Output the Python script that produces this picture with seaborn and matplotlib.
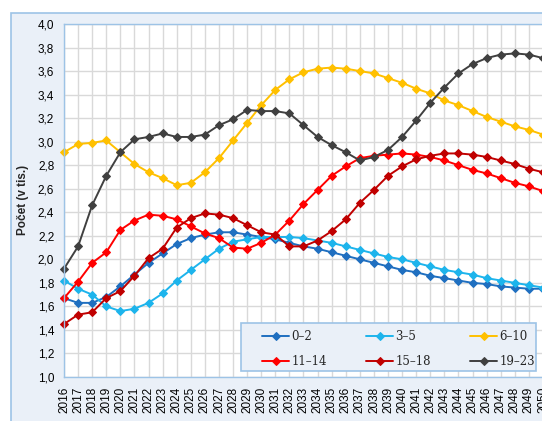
import matplotlib
matplotlib.use("Agg")
import matplotlib.pyplot as plt
from matplotlib.patches import Rectangle
from matplotlib.ticker import FuncFormatter, MultipleLocator
import seaborn as sns
import numpy as np

years = list(range(2016, 2051))

g0_2 = [1.67, 1.63, 1.63, 1.68, 1.77, 1.87, 1.97, 2.05, 2.13,
        2.18, 2.21, 2.23, 2.23, 2.21, 2.19, 2.17, 2.14, 2.11,
        2.09, 2.06, 2.03, 2.00, 1.97, 1.94, 1.91, 1.89, 1.86,
        1.84, 1.82, 1.80, 1.79, 1.77, 1.76, 1.75, 1.75]
g3_5 = [1.82, 1.75, 1.70, 1.60, 1.56, 1.58, 1.63, 1.71, 1.82,
        1.91, 2.00, 2.09, 2.15, 2.17, 2.19, 2.19, 2.19, 2.18,
        2.16, 2.14, 2.11, 2.08, 2.05, 2.02, 2.00, 1.97, 1.94,
        1.91, 1.89, 1.87, 1.84, 1.82, 1.80, 1.78, 1.76]
g6_10 = [2.91, 2.98, 2.99, 3.01, 2.91, 2.81, 2.74, 2.69, 2.63,
         2.65, 2.74, 2.86, 3.01, 3.16, 3.31, 3.44, 3.53, 3.59,
         3.62, 3.63, 3.62, 3.60, 3.58, 3.54, 3.50, 3.45, 3.41,
         3.35, 3.31, 3.26, 3.21, 3.17, 3.13, 3.10, 3.06]
g11_14 = [1.67, 1.81, 1.97, 2.06, 2.25, 2.33, 2.38, 2.37, 2.34,
          2.28, 2.22, 2.18, 2.10, 2.09, 2.14, 2.21, 2.33, 2.47,
          2.59, 2.71, 2.79, 2.86, 2.88, 2.89, 2.90, 2.89, 2.87,
          2.84, 2.80, 2.76, 2.73, 2.69, 2.65, 2.62, 2.58]
g15_18 = [1.45, 1.53, 1.55, 1.67, 1.73, 1.86, 2.01, 2.09, 2.27,
          2.35, 2.39, 2.38, 2.35, 2.29, 2.23, 2.21, 2.11, 2.11,
          2.16, 2.24, 2.34, 2.48, 2.59, 2.71, 2.79, 2.85, 2.88,
          2.90, 2.90, 2.89, 2.87, 2.84, 2.81, 2.77, 2.74]
g19_23 = [1.92, 2.11, 2.46, 2.71, 2.91, 3.02, 3.04, 3.07, 3.04,
          3.04, 3.06, 3.14, 3.19, 3.27, 3.26, 3.26, 3.24, 3.14,
          3.04, 2.97, 2.91, 2.84, 2.87, 2.93, 3.04, 3.18, 3.33,
          3.46, 3.58, 3.66, 3.71, 3.74, 3.75, 3.74, 3.71]

labels = ["0\u20132", "3\u20135", "6\u201310", "11\u201314", "15\u201318", "19\u201323"]
series = [g0_2, g3_5, g6_10, g11_14, g15_18, g19_23]
colors = ["#1F6FC0", "#1DB4EC", "#FFC000", "#FF0000", "#C00000", "#404040"]

sns.set_style("white")
plt.rcParams["font.family"] = ["Liberation Sans", "DejaVu Sans"]

W, H = 542, 421
fig = plt.figure(figsize=(W / 100, H / 100), dpi=100)
fig.patch.set_facecolor("white")
bg = Rectangle((10.5 / W, -0.02), 1.0, 1 - 12.5 / H + 0.02, transform=fig.transFigure,
               facecolor="#EAF0F8", edgecolor="#9DC3E6", lw=1.2, zorder=-10)
fig.patches.append(bg)

ax = fig.add_axes([64 / W, 44 / H, 479 / W, 353 / H])
ax.set_zorder(1)
ax.set_facecolor("white")

for vals, lab, col in zip(series, labels, colors):
    sns.lineplot(x=years, y=vals, ax=ax, color=col, marker="D", markersize=4.3,
                 markeredgecolor=col, linewidth=1.4, label=lab, sort=False,
                 errorbar=None, clip_on=False)

ax.set_xlim(2016, 2050)
ax.set_ylim(1.0, 4.0)
ax.set_xticks(years)
ax.set_xticklabels([str(y) for y in years], rotation=90, fontsize=8.5)
ax.yaxis.set_major_locator(MultipleLocator(0.2))
ax.yaxis.set_major_formatter(FuncFormatter(lambda v, p: f"{v:.1f}".replace(".", ",")))
for t in ax.get_yticklabels():
    t.set_fontsize(8.5)
ax.tick_params(axis="both", length=0, pad=7, labelsize=8.5, colors="#000000")
ax.grid(True, color="#D9D9D9", lw=1)
ax.set_axisbelow(True)
for s in ax.spines.values():
    s.set_color("#9DC3E6")
    s.set_linewidth(1)
ax.set_xlabel("")
ax.set_ylabel("")

fig.text(23 / W, 1 - 200 / H, "Počet (v tis.)", rotation=90, fontsize=8.5,
         fontweight="bold", ha="center", va="center")

# legend
leg_box = Rectangle((241 / W, 1 - 371 / H), 295 / W, 48 / H, transform=fig.transFigure,
                    facecolor="#EAF0F8", edgecolor="#9DC3E6", lw=1.2, zorder=5)
fig.patches.append(leg_box)
handles, labs = ax.get_legend_handles_labels()
order = [0, 3, 1, 4, 2, 5]
leg = fig.legend([handles[i] for i in order], [labs[i] for i in order], ncol=3,
                 loc="upper left", bbox_to_anchor=(262 / W, 1 - 330 / H),
                 frameon=False, borderpad=0, borderaxespad=0,
                 handlelength=2.3, handletextpad=0.2, columnspacing=3.3,
                 labelspacing=1.05, prop={"family": "DejaVu Serif", "size": 8.5})
leg.set_zorder(6)
if ax.get_legend() is not None:
    ax.get_legend().remove()

fig.savefig("out.png", dpi=100)
